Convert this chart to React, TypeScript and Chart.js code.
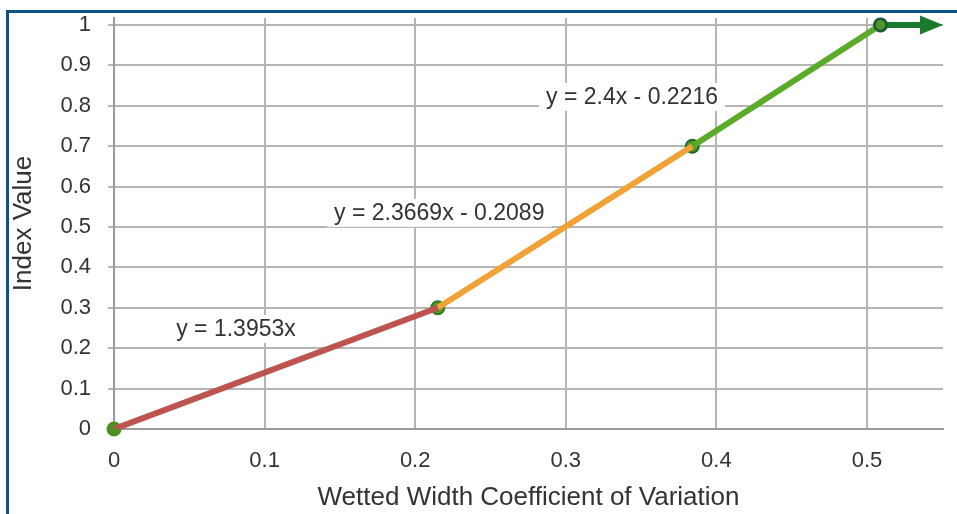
import React, { useEffect, useRef } from "react";
import { Chart, registerables } from "chart.js";

Chart.register(...registerables);

// ---- data ----
const xTickValues = [0, 0.1, 0.2, 0.3, 0.4, 0.5];
const yTickValues = [0, 0.1, 0.2, 0.3, 0.4, 0.5, 0.6, 0.7, 0.8, 0.9, 1];

const segmentRed = [
  { x: 0, y: 0 },
  { x: 0.215, y: 0.3 },
];
const segmentOrange = [
  { x: 0.215, y: 0.3 },
  { x: 0.384, y: 0.7 },
];
const segmentGreen = [
  { x: 0.384, y: 0.7 },
  { x: 0.509, y: 1 },
];
const knots = [
  { x: 0, y: 0 },
  { x: 0.215, y: 0.3 },
  { x: 0.384, y: 0.7 },
  { x: 0.509, y: 1 },
];
const arrowFrom = { x: 0.509, y: 1 };
const arrowTo = { x: 0.5505, y: 1 };

const equationTexts = ["y = 1.3953x", "y = 2.3669x - 0.2089", "y = 2.4x - 0.2216"];
const equationAnchorX = [0.081, 0.216, 0.344];
const equationAnchorY = [0.2475, 0.535, 0.822];

const xTitle = "Wetted Width Coefficient of Variation";
const yTitle = "Index Value";

const FONT = "'Liberation Sans', Arial, Helvetica, sans-serif";

const overlayPlugin = {
  id: "overlay",
  afterDatasetsDraw(chart: any) {
    const { ctx, scales } = chart;
    const xs = scales.x;
    const ys = scales.y;
    ctx.save();
    // arrow
    const x1 = xs.getPixelForValue(arrowFrom.x);
    const y1 = ys.getPixelForValue(arrowFrom.y);
    const x2 = xs.getPixelForValue(arrowTo.x);
    const y2 = ys.getPixelForValue(arrowTo.y);
    const headLen = 23;
    const headHalf = 9.5;
    ctx.strokeStyle = "#1b7a2c";
    ctx.fillStyle = "#1b7a2c";
    ctx.lineWidth = 6;
    ctx.beginPath();
    ctx.moveTo(x1, y1);
    ctx.lineTo(x2 - headLen + 2, y2);
    ctx.stroke();
    ctx.beginPath();
    ctx.moveTo(x2, y2);
    ctx.lineTo(x2 - headLen, y2 - headHalf);
    ctx.lineTo(x2 - headLen, y2 + headHalf);
    ctx.closePath();
    ctx.fill();
    // last knot on top of arrow start
    ctx.beginPath();
    ctx.arc(x1, y1, 6, 0, Math.PI * 2);
    ctx.fillStyle = "#4f9a24";
    ctx.fill();
    ctx.lineWidth = 2.5;
    ctx.strokeStyle = "#1c5a3a";
    ctx.stroke();

    // equation labels
    ctx.font = `23px ${FONT}`;
    ctx.textAlign = "center";
    ctx.textBaseline = "middle";
    for (let i = 0; i < equationTexts.length; i++) {
      const px = xs.getPixelForValue(equationAnchorX[i]);
      const py = ys.getPixelForValue(equationAnchorY[i]);
      const w = ctx.measureText(equationTexts[i]).width;
      ctx.fillStyle = "#ffffff";
      ctx.fillRect(px - w / 2 - 7, py - 14, w + 14, 28);
      ctx.fillStyle = "#333333";
      ctx.fillText(equationTexts[i], px, py + 1);
    }
    ctx.restore();
  },
};

export default function App() {
  const canvasRef = useRef<HTMLCanvasElement | null>(null);

  useEffect(() => {
    const canvas = canvasRef.current;
    if (!canvas) return;
    const chart = new Chart(canvas, {
      type: "line",
      data: {
        datasets: [
          {
            data: segmentRed,
            borderColor: "#bd5450",
            borderWidth: 6,
            pointRadius: 0,
            order: 1,
          },
          {
            data: segmentOrange,
            borderColor: "#f0a236",
            borderWidth: 6,
            pointRadius: 0,
            order: 1,
          },
          {
            data: segmentGreen,
            borderColor: "#5aab27",
            borderWidth: 6,
            pointRadius: 0,
            order: 1,
          },
          {
            data: knots,
            showLine: false,
            clip: false,
            pointRadius: 6.5,
            pointBackgroundColor: ["#4e8f1f", "#4f9a24", "#4f9a24", "#4f9a24"],
            pointBorderColor: ["#4e8f1f", "#2f7a22", "#1f6a2a", "#1c5a3a"],
            pointBorderWidth: 2,
            order: 5,
          },
        ],
      },
      options: {
        animation: false,
        responsive: false,
        maintainAspectRatio: false,
        layout: { padding: { left: 0, top: 18, right: 14, bottom: 0 } },
        plugins: {
          legend: { display: false },
          tooltip: { enabled: false },
        },
        scales: {
          x: {
            type: "linear",
            min: 0,
            max: 0.5505,
            afterBuildTicks: (s: any) => {
              s.ticks = xTickValues.map((v) => ({ value: v }));
            },
            afterFit: (s: any) => {
              s.height = 85;
            },
            ticks: {
              autoSkip: false,
              maxRotation: 0,
              padding: 19,
              color: "#333333",
              font: { family: FONT, size: 22 },
              callback: (v: any) => String(v),
            },
            grid: {
              color: "#b5b5b5",
              lineWidth: 2,
              drawTicks: false,
            },
            border: { color: "#9a9a9a", width: 2 },
            title: {
              display: true,
              text: xTitle,
              color: "#333333",
              font: { family: FONT, size: 26 },
              padding: { top: 0, bottom: 1 },
            },
          },
          y: {
            type: "linear",
            min: 0,
            max: 1.0173,
            afterBuildTicks: (s: any) => {
              s.ticks = yTickValues.map((v) => ({ value: v }));
            },
            afterFit: (s: any) => {
              s.width = 114;
              s.paddingTop = 0;
              s.paddingBottom = 0;
            },
            ticks: {
              autoSkip: false,
              padding: 17,
              color: "#333333",
              font: { family: FONT, size: 22 },
              callback: (v: any) => String(v),
            },
            grid: {
              color: "#b5b5b5",
              lineWidth: 2,
              drawTicks: true,
              tickLength: 6,
            },
            border: { color: "#9a9a9a", width: 2 },
            title: {
              display: true,
              text: yTitle,
              color: "#333333",
              font: { family: FONT, size: 26 },
              padding: { top: 8, bottom: 0 },
            },
          },
        },
      },
      plugins: [overlayPlugin],
    });
    return () => chart.destroy();
  }, []);

  return (
    <div
      style={{
        position: "absolute",
        left: 0,
        top: 0,
        width: 957,
        height: 514,
        overflow: "hidden",
        background: "#ffffff",
      }}
    >
      <canvas
        ref={canvasRef}
        width={957}
        height={514}
        style={{ position: "absolute", left: 0, top: 0, width: 957, height: 514 }}
      />
      <div
        style={{
          position: "absolute",
          left: 6,
          top: 10,
          width: 980,
          height: 540,
          border: "3px solid #0d5189",
          boxSizing: "border-box",
          pointerEvents: "none",
        }}
      />
    </div>
  );
}
